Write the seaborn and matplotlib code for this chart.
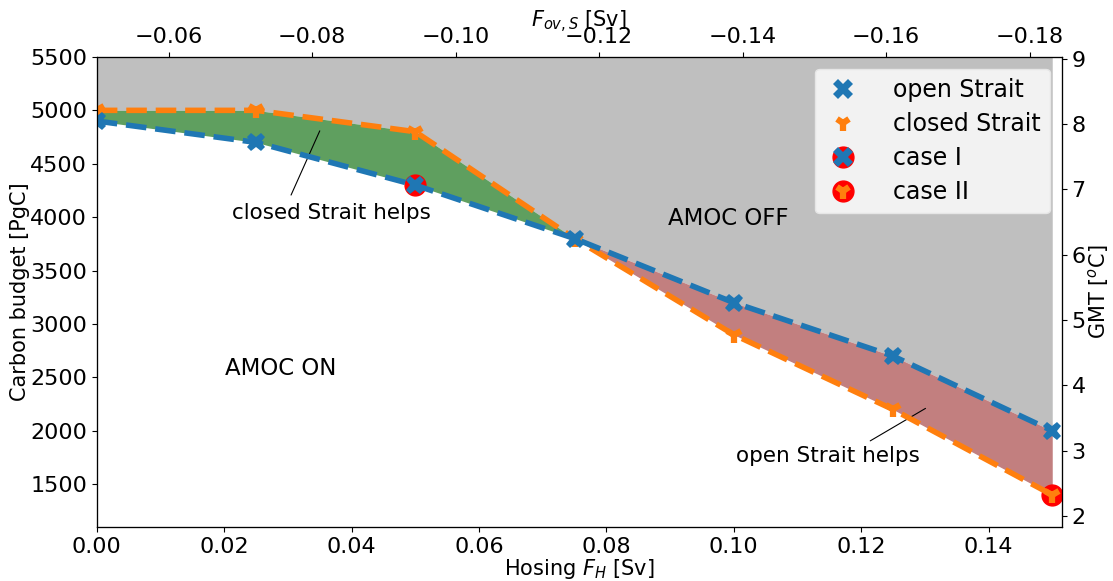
import numpy as np
import matplotlib
matplotlib.use("Agg")
import matplotlib.pyplot as plt
import seaborn as sns
from matplotlib.lines import Line2D

# data
hosing = np.array([0.0, 0.025, 0.05, 0.075, 0.1, 0.125, 0.15])
open_strait = np.array([4900, 4700, 4300, 3800, 3200, 2700, 2000])
closed_strait = np.array([5000, 5000, 4800, 3800, 2900, 2200, 1400])
case1 = (0.05, 4300)
case2 = (0.15, 1400)

plt.rcParams["font.size"] = 15
plt.rcParams["xtick.labelsize"] = 16
plt.rcParams["ytick.labelsize"] = 16

fig, ax = plt.subplots(figsize=(11.13, 5.81), dpi=100)
fig.subplots_adjust(left=0.087, right=0.954, bottom=0.093, top=0.902)

upper = np.maximum(open_strait, closed_strait)
ax.fill_between(hosing, upper, 5500, color="#bfbfbf", lw=0)
ax.fill_between(hosing, open_strait, closed_strait, where=closed_strait >= open_strait,
                interpolate=True, color="#5f9f5f", lw=0)
ax.fill_between(hosing, open_strait, closed_strait, where=open_strait >= closed_strait,
                interpolate=True, color="#c27f7f", lw=0)

# red circles for the two cases
ax.plot(*case1, "o", color="red", markersize=15, zorder=3)
ax.plot(*case2, "o", color="red", markersize=15, zorder=3)

sns.lineplot(x=hosing, y=closed_strait, ax=ax, color="tab:orange", linestyle="--", lw=4,
             marker="1", markersize=12, markeredgewidth=4.5,
             markeredgecolor="tab:orange", zorder=4)
sns.lineplot(x=hosing, y=open_strait, ax=ax, color="tab:blue", linestyle="--", lw=4,
             marker="X", markersize=13, markeredgewidth=0, zorder=5)

ax.text(0.0897, 3990, "AMOC OFF", fontsize=16.5, va="center")
ax.text(0.0201, 2580, "AMOC ON", fontsize=16.5, va="center")
ax.annotate("closed Strait helps", xy=(0.035, 4808), xytext=(0.0212, 4040),
            fontsize=15.5, va="center",
            arrowprops=dict(arrowstyle="-", color="black", lw=0.8, shrinkA=4, shrinkB=0,
                            relpos=(0.28, 1.0)))
ax.annotate("open Strait helps", xy=(0.1301, 2210), xytext=(0.1003, 1760),
            fontsize=15.5, va="center",
            arrowprops=dict(arrowstyle="-", color="black", lw=0.8, shrinkA=4, shrinkB=0,
                            relpos=(0.68, 1.0)))

ax.set_xlim(0, 0.1515)
ax.set_ylim(1100, 5500)
ax.set_xlabel("Hosing $F_H$ [Sv]", labelpad=0)
ax.set_ylabel("Carbon budget [PgC]", labelpad=0)

# top axis: overturning at southern boundary
axt = ax.twiny()
axt.set_xlim(-0.05, -0.1845)
axt.set_xlabel("$F_{ov,S}$ [Sv]", labelpad=0)

# right axis: global mean temperature
axr = ax.twinx()
axr.set_ylim(1.83, 9.03)
axr.set_ylabel("GMT [$^o$C]", labelpad=0)

h_open = Line2D([], [], ls="", marker="X", color="tab:blue", markersize=14, markeredgewidth=0)
h_closed = Line2D([], [], ls="", marker="1", color="tab:orange", markersize=11, markeredgewidth=4.5)
h_red = Line2D([], [], ls="", marker="o", color="red", markersize=15)
axr.legend([h_open, h_closed, (h_red, h_open), (h_red, h_closed)],
           ["open Strait", "closed Strait", "case I", "case II"],
           loc="upper right", fontsize=17, facecolor="#f2f2f2", framealpha=1,
           edgecolor="#e6e6e6", handlelength=1.6, handletextpad=1.3,
           labelspacing=0.42, borderpad=0.4)

plt.savefig("out.png", dpi=100)
